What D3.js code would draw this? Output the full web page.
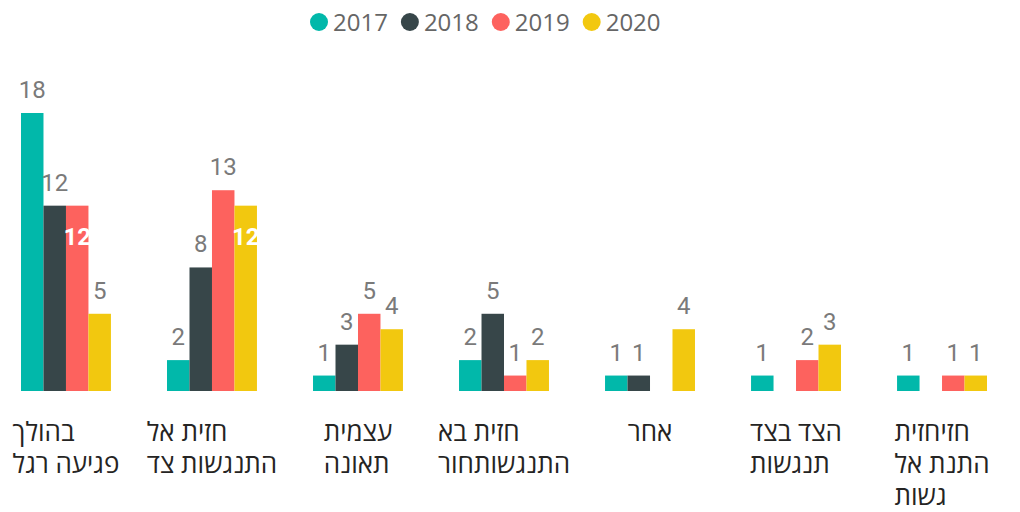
<!DOCTYPE html>
<html>
<head>
<meta charset="utf-8">
<script src="https://cdn.jsdelivr.net/npm/d3@7"></script>
<style>
  body { margin: 0; background: #fff; }
</style>
</head>
<body>
<div id="chart"></div>
<script>
// Data
const categories = ["c1", "c2", "c3", "c4", "c5", "c6", "c7"];
const categoryLines = [
    ["בהולך", "פגיעה רגל"],
    ["חזית אל", "התנגשות צד"],
    ["עצמית", "תאונה"],
    ["חזית בא", "התנגשותחור"],
    ["אחר"],
    ["הצד בצד", "תנגשות"],
    ["חזיחזית", "התנת אל", "גשות"]
];
const years = ["2017", "2018", "2019", "2020"];
const values2017 = [18, 2, 1, 2, 1, 1, 1];
const values2018 = [12, 8, 3, 5, 1, 0, 0];
const values2019 = [12, 13, 5, 1, 0, 2, 1];
const values2020 = [5, 12, 4, 2, 4, 3, 1];
const seriesValues = [values2017, values2018, values2019, values2020];

const width = 1020;
const height = 512;

const svg = d3.select("#chart")
    .append("svg")
    .attr("width", width)
    .attr("height", height);

// Colors
const colors = d3.scaleOrdinal()
    .domain(years)
    .range(["#01B8AA", "#374649", "#FD625E", "#F2C80F"]);

// Scales
const x0 = d3.scaleBand()
    .domain(categories)
    .range([21, 987])
    .paddingInner(0.384)
    .paddingOuter(0);

const x1 = d3.scaleBand()
    .domain(years)
    .range([0, x0.bandwidth()]);

const y = d3.scaleLinear()
    .domain([0, 18])
    .range([391, 113]);

// Flatten data
const bars = [];
categories.forEach((c, i) => {
    years.forEach((yr, j) => {
        bars.push({ cat: c, ci: i, year: yr, value: seriesValues[j][i] });
    });
});

// Bars
svg.append("g")
    .selectAll("rect")
    .data(bars.filter(d => d.value > 0))
    .enter().append("rect")
    .attr("x", d => x0(d.cat) + x1(d.year))
    .attr("y", d => y(d.value))
    .attr("width", x1.bandwidth())
    .attr("height", d => y(0) - y(d.value))
    .attr("fill", d => colors(d.year));

// Data labels, moved inside the bar when they would collide with the previous label
const labelG = svg.append("g")
    .attr("font-family", "Roboto, sans-serif")
    .attr("font-size", 24)
    .attr("text-anchor", "middle");

categories.forEach((c, i) => {
    let prevBox = null;
    years.forEach((yr, j) => {
        const v = seriesValues[j][i];
        if (!v) return;
        const cx = x0(c) + x1(yr) + x1.bandwidth() / 2;
        const top = y(v);
        const t = labelG.append("text")
            .attr("x", cx)
            .attr("y", top - 15)
            .attr("fill", "#7a7a7a")
            .text(v);
        const w = t.node().getComputedTextLength();
        const box = { x0: cx - w / 2, x1: cx + w / 2, y0: top - 33, y1: top - 15 };
        const hit = prevBox && box.x0 < prevBox.x1 - 1 && box.x1 > prevBox.x0 + 1 &&
            box.y0 < prevBox.y1 - 1 && box.y1 > prevBox.y0 + 1;
        if (hit) {
            t.attr("y", top + 39).attr("fill", "#ffffff").attr("font-weight", "bold");
        } else {
            prevBox = box;
        }
    });
});

// Category labels (wrapped lines, block centered under each group)
const catG = svg.append("g")
    .attr("font-family", "'Open Sans', 'DejaVu Sans', sans-serif")
    .attr("font-size", 26)
    .attr("fill", "#252423");

categoryLines.forEach((lines, i) => {
    const g = catG.append("g");
    const texts = lines.map((line, k) => g.append("text")
        .attr("y", 441 + k * 32)
        .text(line));
    const maxW = d3.max(texts, t => t.node().getComputedTextLength());
    const left = x0(categories[i]) + x0.bandwidth() / 2 - maxW / 2;
    texts.forEach(t => t.attr("x", left));
});

// Legend
const legend = svg.append("g")
    .attr("font-family", "'Open Sans', sans-serif")
    .attr("font-size", 24)
    .attr("fill", "#666666");

let lx = 310;
years.forEach(yr => {
    legend.append("circle")
        .attr("cx", lx + 9)
        .attr("cy", 22)
        .attr("r", 9)
        .attr("fill", colors(yr));
    const t = legend.append("text")
        .attr("x", lx + 23)
        .attr("y", 31)
        .text(yr);
    lx += 23 + t.node().getComputedTextLength() + 13;
});
</script>
</body>
</html>
